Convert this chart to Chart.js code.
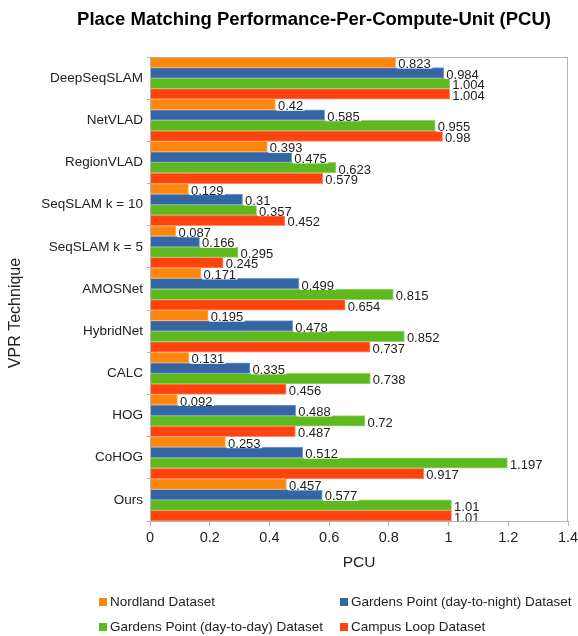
<!DOCTYPE html>
<html>
<head>
<meta charset="utf-8">
<script src="https://cdn.jsdelivr.net/npm/chart.js@4"></script>
<style>
  body { margin: 0; background: #fff; }
  canvas { display: block; }
</style>
</head>
<body>
<canvas id="pcuChart" width="578" height="636"></canvas>
<script>
// Data yang dibaca dari gambar
const techniques = ["DeepSeqSLAM", "NetVLAD", "RegionVLAD", "SeqSLAM k = 10", "SeqSLAM k = 5",
  "AMOSNet", "HybridNet", "CALC", "HOG", "CoHOG", "Ours"];
const nordland = [0.823, 0.42, 0.393, 0.129, 0.087, 0.171, 0.195, 0.131, 0.092, 0.253, 0.457];
const gardensNight = [0.984, 0.585, 0.475, 0.31, 0.166, 0.499, 0.478, 0.335, 0.488, 0.512, 0.577];
const gardensDay = [1.004, 0.955, 0.623, 0.357, 0.295, 0.815, 0.852, 0.738, 0.72, 1.197, 1.01];
const campusLoop = [1.004, 0.98, 0.579, 0.452, 0.245, 0.654, 0.737, 0.456, 0.487, 0.917, 1.01];
const seriesNames = ["Nordland Dataset", "Gardens Point (day-to-night) Dataset",
  "Gardens Point (day-to-day) Dataset", "Campus Loop Dataset"];
const xTicks = [0, 0.2, 0.4, 0.6, 0.8, 1, 1.2, 1.4];

const FONT = "'Liberation Sans', Arial, sans-serif";
const TEXT = "#222222";
const AXIS_GREY = "#b3b3b3";

const colors = ["#ff860d", "#3465a4", "#5eb91e", "#ff420e"];
const borders = ["#ffb366", "#7f9fc8", "#9ad46f", "#ff8a66"];

//! Plugin: label nilai, judul, border area, legend
const decorPlugin = {
  id: "decor",
  afterDatasetsDraw(chart) {
    const ctx = chart.ctx;
    ctx.save();
    ctx.font = `13px ${FONT}`;
    chart.data.datasets.forEach((ds, i) => {
      chart.getDatasetMeta(i).data.forEach((bar, j) => {
        const txt = String(ds.data[j]);
        const w = ctx.measureText(txt).width;
        const h = bar.height;
        ctx.fillStyle = "#ffffff";
        ctx.fillRect(bar.x + 1, bar.y - h / 2 + 1, w + 3, h);
        ctx.fillStyle = TEXT;
        ctx.textAlign = "left";
        ctx.textBaseline = "alphabetic";
        ctx.fillText(txt, bar.x + 2.5, bar.y + h / 2 + 0.5);
      });
    });
    ctx.restore();
  },
  afterDraw(chart) {
    const ctx = chart.ctx;
    const a = chart.chartArea;
    ctx.save();
    // border area plot
    ctx.strokeStyle = AXIS_GREY;
    ctx.lineWidth = 1;
    ctx.strokeRect(Math.round(a.left) + 0.5, Math.round(a.top) + 0.5,
      Math.round(a.right - a.left) - 1, Math.round(a.bottom - a.top));

    // judul
    ctx.fillStyle = "#000";
    ctx.font = `bold 18.5px ${FONT}`;
    ctx.textAlign = "center";
    ctx.textBaseline = "middle";
    ctx.fillText("Place Matching Performance-Per-Compute-Unit (PCU)", 314, 20);

    // judul sumbu Y
    ctx.save();
    ctx.translate(16, 313);
    ctx.rotate(-Math.PI / 2);
    ctx.font = `16px ${FONT}`;
    ctx.fillStyle = TEXT;
    ctx.fillText("VPR Technique", 0, 0);
    ctx.restore();

    // legend 2 kolom
    ctx.font = `13.5px ${FONT}`;
    ctx.textAlign = "left";
    ctx.textBaseline = "middle";
    const cols = [99, 340];
    const rows = [602, 627];
    chart.data.datasets.forEach((ds, i) => {
      const x = cols[i % 2];
      const y = rows[Math.floor(i / 2)];
      ctx.fillStyle = ds.backgroundColor;
      ctx.fillRect(x, y - 4, 8, 8);
      ctx.fillStyle = TEXT;
      ctx.fillText(ds.label, x + 11, y);
    });
    ctx.restore();
  },
};

const seriesData = [nordland, gardensNight, gardensDay, campusLoop];

new Chart(document.getElementById("pcuChart").getContext("2d"), {
  type: "bar",
  data: {
    labels: techniques,
    datasets: seriesData.map((values, i) => ({
      label: seriesNames[i],
      data: values,
      backgroundColor: colors[i],
      borderColor: borders[i],
      borderWidth: 1,
      categoryPercentage: 1,
      barPercentage: 1,
    })),
  },
  options: {
    indexAxis: "y",
    responsive: false,
    animation: false,
    layout: { padding: { top: 57, right: 0, bottom: 60, left: 0 } },
    plugins: {
      legend: { display: false },
      title: { display: false },
      tooltip: { enabled: false },
    },
    scales: {
      x: {
        min: 0,
        max: 1.4,
        afterBuildTicks: (scale) => {
          scale.ticks = xTicks.map((v) => ({ value: v }));
        },
        afterFit: (scale) => {
          scale.height = 55;
          scale.paddingRight = 10;
        },
        grid: { drawOnChartArea: false, drawTicks: true, tickLength: 5, color: AXIS_GREY },
        border: { display: true, color: AXIS_GREY },
        ticks: {
          padding: 3,
          color: TEXT,
          font: { family: FONT, size: 14.5 },
          callback: (v) => String(+Number(v).toFixed(1)),
        },
        title: {
          display: true,
          text: "PCU",
          color: TEXT,
          font: { family: FONT, size: 15.5 },
          padding: { top: 0, bottom: 4 },
        },
      },
      y: {
        afterFit: (scale) => { scale.width = 150; },
        grid: { offset: true, drawOnChartArea: false, drawTicks: true, tickLength: 3, color: AXIS_GREY },
        border: { display: true, color: AXIS_GREY },
        ticks: {
          padding: 4,
          color: TEXT,
          font: { family: FONT, size: 13.5 },
        },
      },
    },
  },
  plugins: [decorPlugin],
});
</script>
</body>
</html>
